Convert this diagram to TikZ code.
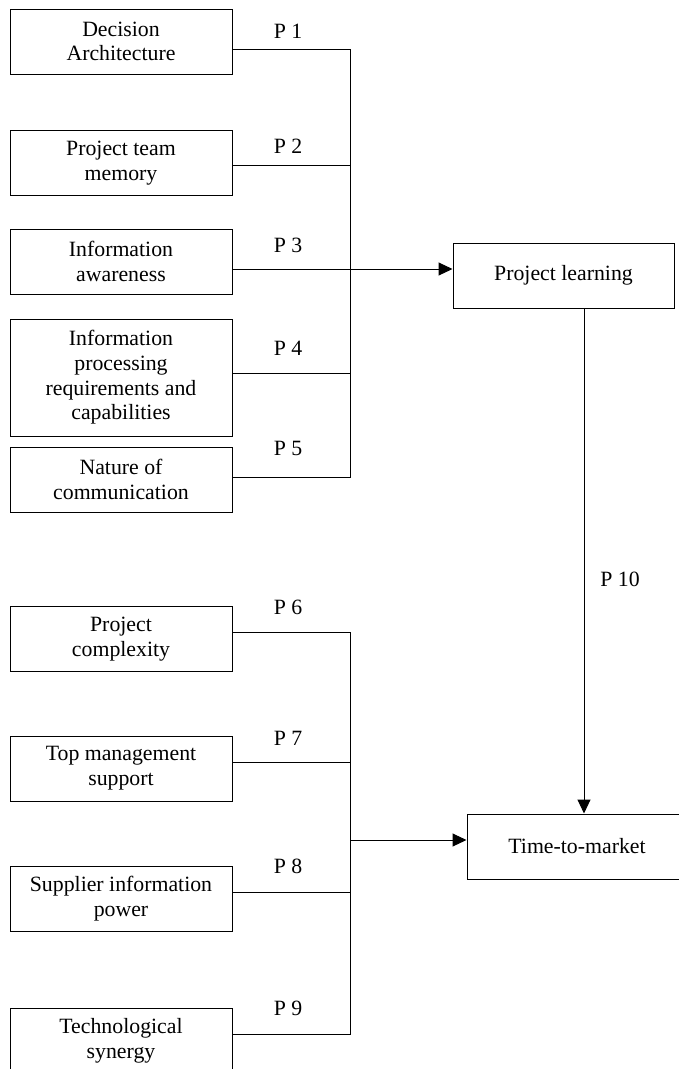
\documentclass[tikz,border=0pt]{standalone}
\usepackage{fontspec}
\setmainfont{Liberation Serif}
\usetikzlibrary{arrows.meta}
\tikzset{
  factor/.style={draw, line width=1pt, minimum width=222pt, minimum height=65pt, align=center, inner sep=2pt},
  outcome/.style={draw, line width=1pt, minimum height=65pt, align=center},
  plabel/.style={inner sep=0pt},
  link/.style={line width=1pt},
  arr/.style={line width=1pt, -{Triangle[length=14pt,width=13pt]}}
}
\begin{document}
\begin{tikzpicture}[x=1pt,y=-1pt,font=\fontsize{21.8}{24.7}\selectfont]
\useasboundingbox (0,0) rectangle (679,1069);
\clip (0,0) rectangle (679,1069);

\node[factor] (da) at (121,41.5) {Decision\\Architecture};
\node[factor] (tm) at (121,163) {Project team\\memory};
\node[factor] (ia) at (121,261.5) {Information\\awareness};
\node[factor, minimum height=117pt] (ip) at (121,377.5) {Information\\processing\\requirements and\\capabilities};
\node[factor] (nc) at (121,479.5) {Nature of\\communication};

\node[factor] (pc) at (121,639) {Project\\complexity};
\node[factor] (ms) at (121,768.5) {Top management\\support};
\node[factor] (sp) at (121,898.5) {Supplier information\\power};
\node[factor] (ts) at (121,1040.5) {Technological\\synergy};

\node[outcome, minimum width=221pt] (pl) at (563.5,275.5) {Project learning};
\node[outcome, minimum width=220pt] (ttm) at (577,846.5) {Time-to-market};

\coordinate (j1) at (350,49);
\coordinate (j2) at (350,165);
\coordinate (j3) at (350,269);
\coordinate (j4) at (350,373);
\coordinate (j5) at (350,477);
\coordinate (k6) at (350,632);
\coordinate (k7) at (350,762);
\coordinate (k8) at (350,892);
\coordinate (k9) at (350,1034);
\coordinate (kt) at (350,840);
\coordinate (col) at (584,0);

\draw[link] (da.east |- j1) -- (j1) -- (j5) -- (nc.east |- j5);
\draw[link] (tm.east |- j2) -- (j2);
\draw[link] (ip.east |- j4) -- (j4);
\draw[arr] (ia.east |- j3) -- (pl.west |- j3);

\draw[link] (pc.east |- k6) -- (k6) -- (k9) -- (ts.east |- k9);
\draw[link] (ms.east |- k7) -- (k7);
\draw[link] (sp.east |- k8) -- (k8);
\draw[arr] (kt) -- (ttm.west |- kt);

\draw[arr] (pl.south -| col) -- (ttm.north -| col);

\node[plabel] (p1) at (288,31) {P 1};
\node[plabel] (p2) at (288,146) {P 2};
\node[plabel] (p3) at (288,245) {P 3};
\node[plabel] (p4) at (288,348) {P 4};
\node[plabel] (p5) at (288,448) {P 5};
\node[plabel] (p6) at (288,607) {P 6};
\node[plabel] (p7) at (288,738) {P 7};
\node[plabel] (p8) at (288,866) {P 8};
\node[plabel] (p9) at (288,1008) {P 9};
\node[plabel] (p10) at (620,579) {P 10};
\end{tikzpicture}
\end{document}
